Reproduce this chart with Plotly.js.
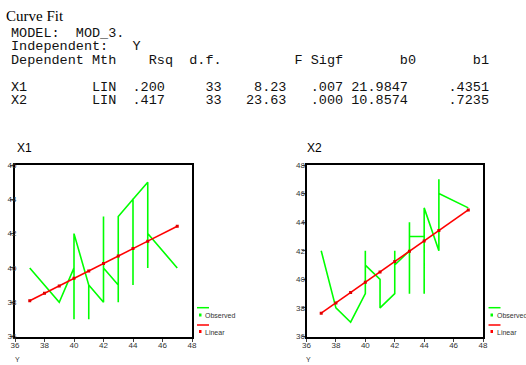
<!DOCTYPE html>
<html>
<head>
<meta charset="utf-8">
<script src="https://cdn.plot.ly/plotly-3.0.1.min.js"></script>
<style>
html,body{margin:0;padding:0;background:#fff;}
#wrap{position:relative;width:526px;height:365px;overflow:hidden;}
#chart{position:absolute;left:0;top:0;width:526px;height:365px;}
#title{position:absolute;left:6px;top:9px;margin:0;font-family:"Liberation Serif","Times New Roman",serif;font-size:15px;line-height:15px;color:#000;white-space:pre;}
#hdr{position:absolute;left:11px;top:27px;margin:0;font-family:"Liberation Mono","Courier New",monospace;font-size:13.5px;line-height:13.4px;color:#111;white-space:pre;}
</style>
</head>
<body>
<div id="wrap">
<div id="chart"></div>
<div id="title"></div>
<pre id="hdr"></pre>
</div>
<script>
// Independent variable (Y), cases sorted by Y
const obsX = [37, 38, 39,
  40, 40, 40, 40, 40,
  41, 41, 41, 41, 41,
  42, 42, 42, 42, 42,
  43, 43, 43, 43, 43,
  44, 44, 44, 44, 44,
  45, 45, 45, 45, 45,
  47];
// Observed dependent values
const obsX1 = [40, 39, 38,
  40, 37, 40, 41, 42,
  39, 37, 38, 39, 39,
  38, 43, 42, 41, 40,
  39, 38, 41, 42, 43,
  44, 39, 42, 43, 44,
  45, 44, 40, 41, 42,
  40];
const obsX2 = [42, 38, 37,
  39, 40, 42, 41, 41,
  40, 39, 38, 39, 38,
  39, 40, 42, 41, 41,
  42, 39, 44, 43, 43,
  43, 39, 41, 45, 45,
  42, 44, 47, 46, 46,
  45];
// Linear fit values
const fitX = [37, 38, 39, 40, 41, 42, 43, 44, 45, 47];
const fitX1 = [38.08, 38.52, 38.95, 39.39, 39.82, 40.26, 40.69, 41.13, 41.56, 42.43];
const fitX2 = [37.63, 38.35, 39.07, 39.80, 40.52, 41.24, 41.97, 42.69, 43.41, 44.86];

// Text output table
const headerTitle = "Curve Fit";
const headerLines = [
  "MODEL:  MOD_3.",
  "Independent:   Y",
  "Dependent Mth    Rsq  d.f.         F Sigf       b0       b1",
  "",
  "X1        LIN  .200     33    8.23   .007 21.9847     .4351",
  "X2        LIN  .417     33   23.63   .000 10.8574     .7235"
];
const panelTitles = ["X1", "X2"];
const legendLabels = ["Observed", "Linear"];
const axisTitle = "Y";

document.getElementById("title").textContent = headerTitle;
document.getElementById("hdr").textContent = headerLines.join("\n");

const W = 526, H = 365;
const px = x => x / W;
const py = y => 1 - y / H;

const green = "#00ff00", red = "#ff0000";

const traces = [
  {x: obsX, y: obsX1, xaxis: "x", yaxis: "y", mode: "lines", line: {color: green, width: 1.6}, hoverinfo: "skip"},
  {x: fitX, y: fitX1, xaxis: "x", yaxis: "y", mode: "lines+markers", line: {color: red, width: 1.6}, marker: {color: "#e00000", size: 3, symbol: "square"}, hoverinfo: "skip"},
  {x: obsX, y: obsX2, xaxis: "x2", yaxis: "y2", mode: "lines", line: {color: green, width: 1.6}, hoverinfo: "skip"},
  {x: fitX, y: fitX2, xaxis: "x2", yaxis: "y2", mode: "lines+markers", line: {color: red, width: 1.6}, marker: {color: "#e00000", size: 3, symbol: "square"}, hoverinfo: "skip"}
];

const axBase = {
  showline: true, mirror: true, linecolor: "#000", linewidth: 2,
  showgrid: false, zeroline: false, ticks: "outside", ticklen: 3, tickwidth: 1, tickcolor: "#444",
  tickfont: {family: "Arial, Liberation Sans", size: 8, color: "#333"},
  dtick: 2, tick0: 36, fixedrange: true
};

const ydom = [py(336.5), py(165)];
const layout = {
  width: W, height: H,
  margin: {l: 0, r: 0, t: 0, b: 0},
  paper_bgcolor: "#fff", plot_bgcolor: "#fff",
  showlegend: false,
  xaxis: Object.assign({}, axBase, {domain: [px(15), px(192)], range: [36, 48], anchor: "y", ticklabelstandoff: -3}),
  yaxis: Object.assign({}, axBase, {domain: ydom, range: [36, 46], anchor: "x", ticklabelstandoff: -8}),
  xaxis2: Object.assign({}, axBase, {domain: [px(306.5), px(483)], range: [36, 48], anchor: "y2", ticklabelstandoff: -3}),
  yaxis2: Object.assign({}, axBase, {domain: ydom, range: [36, 48], anchor: "x2", ticklabelstandoff: -5}),
  annotations: [],
  shapes: []
};

const ann = (text, x, y, font, opts) => Object.assign({
  text: text, xref: "paper", yref: "paper", x: px(x), y: py(y),
  xanchor: "left", yanchor: "middle", showarrow: false, font: font
}, opts || {});

// panel titles
layout.annotations.push(ann(panelTitles[0], 15, 148, {family: "Arial, Liberation Sans", size: 12, color: "#000"}));
layout.annotations.push(ann(panelTitles[1], 305, 148, {family: "Arial, Liberation Sans", size: 12, color: "#000"}));
// axis titles (small, at the very bottom)
layout.annotations.push(ann(axisTitle, 13, 364.5, {family: "Arial, Liberation Sans", size: 7, color: "#333"}, {yanchor: "bottom"}));
layout.annotations.push(ann(axisTitle, 304, 364.5, {family: "Arial, Liberation Sans", size: 7, color: "#333"}, {yanchor: "bottom"}));

// legends
const legX = [197, 488.5];
legX.forEach(lx => {
  layout.shapes.push({type: "line", xref: "paper", yref: "paper", x0: px(lx), x1: px(lx + 12), y0: py(307.7), y1: py(307.7), line: {color: green, width: 1.5}});
  layout.shapes.push({type: "rect", xref: "paper", yref: "paper", x0: px(lx + 2), x1: px(lx + 4.5), y0: py(316.5), y1: py(313.5), line: {width: 0}, fillcolor: green});
  layout.shapes.push({type: "line", xref: "paper", yref: "paper", x0: px(lx), x1: px(lx + 12), y0: py(325), y1: py(325), line: {color: red, width: 1.5}});
  layout.shapes.push({type: "rect", xref: "paper", yref: "paper", x0: px(lx + 2), x1: px(lx + 4.5), y0: py(333), y1: py(330), line: {width: 0}, fillcolor: red});
  layout.annotations.push(ann(legendLabels[0], lx + 6, 315.5, {family: "Arial, Liberation Sans", size: 7, color: "#333"}));
  layout.annotations.push(ann(legendLabels[1], lx + 6, 332.5, {family: "Arial, Liberation Sans", size: 7, color: "#333"}));
});

Plotly.newPlot("chart", traces, layout, {staticPlot: true, displayModeBar: false});
</script>
</body>
</html>
